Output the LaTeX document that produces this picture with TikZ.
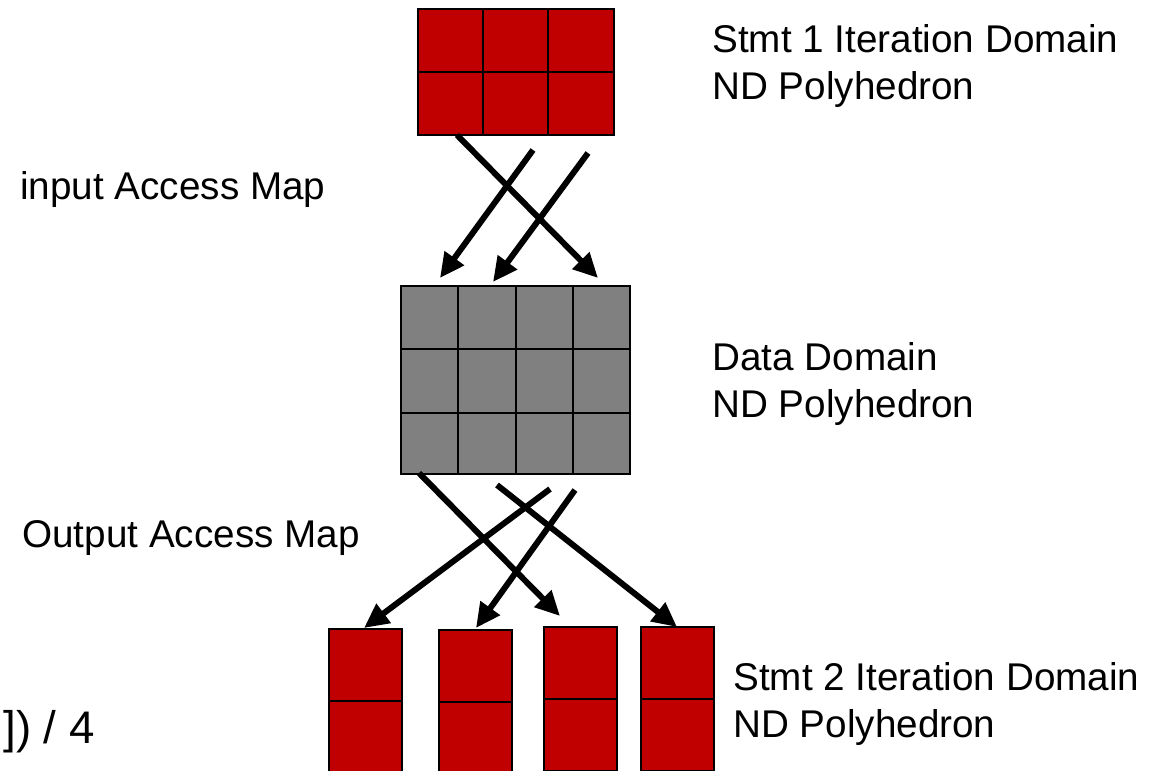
\documentclass[tikz,border=0pt]{standalone}
\usepackage{fontspec}
\setmainfont{Liberation Sans}
\usetikzlibrary{arrows.meta}
\definecolor{cellred}{RGB}{192,0,0}
\definecolor{cellgray}{RGB}{128,128,128}
\tikzset{
  cellline/.style={draw=black, line width=1.1pt},
  maparrow/.style={line width=3.4pt, -{Triangle[length=14pt,width=13pt]}},
  domtext/.style={anchor=west, inner sep=0pt, align=left, font=\fontsize{22}{27.2}\selectfont},
}
\begin{document}
\begin{tikzpicture}[x=0.02cm, y=-0.02cm]
  \useasboundingbox (0,0) rectangle (1161,771);

  % stmt 1 iteration domain
  \filldraw[cellline, fill=cellred] (418,9) rectangle (614,135);
  \foreach \x in {483,548} \draw[cellline] (\x,9) -- (\x,135);
  \draw[cellline] (418,72) -- (614,72);

  % data domain
  \filldraw[cellline, fill=cellgray] (401,286) rectangle (630,474);
  \foreach \x in {458,516,573} \draw[cellline] (\x,286) -- (\x,474);
  \foreach \y in {349,413} \draw[cellline] (401,\y) -- (630,\y);

  % stmt 2 iteration domain
  \foreach \x/\t in {329/629, 439/630, 544/627, 641/627} {
    \filldraw[cellline, fill=cellred] (\x,\t) rectangle (\x+73,\t+144);
    \draw[cellline] (\x,\t+72) -- (\x+73,\t+72);
  }

  % input access map
  \coordinate (inAs) at (457,135);  \coordinate (inAe) at (598,278);
  \coordinate (inBs) at (533,150);  \coordinate (inBe) at (440,278);
  \coordinate (inCs) at (588,153);  \coordinate (inCe) at (493,282);
  \draw[maparrow] (inAs) -- (inAe);
  \draw[maparrow] (inBs) -- (inBe);
  \draw[maparrow] (inCs) -- (inCe);

  % output access map
  \coordinate (outAs) at (419,473);  \coordinate (outAe) at (560,616);
  \coordinate (outBs) at (497,485);  \coordinate (outBe) at (677,627);
  \coordinate (outCs) at (550,489);  \coordinate (outCe) at (364,628);
  \coordinate (outDs) at (575,490);  \coordinate (outDe) at (476,628);
  \draw[maparrow] (outAs) -- (outAe);
  \draw[maparrow] (outBs) -- (outBe);
  \draw[maparrow] (outCs) -- (outCe);
  \draw[maparrow] (outDs) -- (outDe);

  \node[domtext] (stmt1) at (712,66) {Stmt 1 Iteration Domain\\ND Polyhedron};
  \node[domtext] (data) at (712,384) {Data Domain\\ND Polyhedron};
  \node[domtext] (stmt2) at (733,704) {Stmt 2 Iteration Domain\\ND Polyhedron};
  \node[domtext] (inmap) at (20,190) {input Access Map};
  \node[domtext] (outmap) at (22,538) {Output Access Map};
  \node[anchor=base west, inner sep=0pt, font=\fontsize{26}{30}\selectfont] (frag) at (3,743) {]) / 4};
\end{tikzpicture}
\end{document}
